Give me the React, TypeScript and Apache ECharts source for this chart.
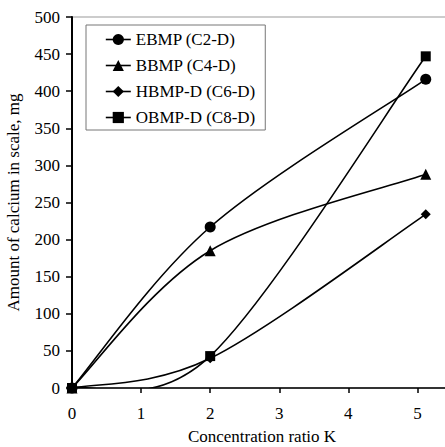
import React, { useEffect, useRef } from "react";
import * as echarts from "echarts";

const xValues = [0, 2, 5.12];
const seriesNames = ["EBMP (C2-D)", "BBMP (C4-D)", "HBMP-D (C6-D)", "OBMP-D (C8-D)"];
const ebmp = [0, 217, 416];
const bbmp = [0, 185, 288];
const hbmp = [0, 40, 234];
const obmp = [0, 43, 447];
const symbols = ["circle", "triangle", "diamond", "rect"];
const symbolSizes = [11, 11, 10, 10];

function splineRenderer(vals: number[]) {
  return (params: any, api: any) => {
    if (params.dataIndex !== 0) return null;
    const pts = xValues.map((x, j) => api.coord([x, vals[j]]));
    const n = pts.length;
    let d = `M${pts[0][0]},${pts[0][1]}`;
    for (let i = 0; i < n - 1; i++) {
      const p0 = pts[i - 1] || pts[i];
      const p1 = pts[i];
      const p2 = pts[i + 1];
      const p3 = pts[i + 2] || pts[i + 1];
      const c1 = [p1[0] + (p2[0] - p0[0]) / 6, p1[1] + (p2[1] - p0[1]) / 6];
      const c2 = [p2[0] - (p3[0] - p1[0]) / 6, p2[1] - (p3[1] - p1[1]) / 6];
      d += ` C${c1[0]},${c1[1]} ${c2[0]},${c2[1]} ${p2[0]},${p2[1]}`;
    }
    return {
      type: "path",
      shape: { pathData: d },
      style: { stroke: "#000", fill: "none", lineWidth: 1.6 },
    };
  };
}

export default function App() {
  const ref = useRef<HTMLDivElement>(null);
  useEffect(() => {
    if (!ref.current) return;
    const chart = echarts.init(ref.current, undefined, { renderer: "svg" });
    const font = "'Liberation Serif', 'Times New Roman', serif";
    const all = [ebmp, bbmp, hbmp, obmp];
    chart.setOption({
      animation: false,
      backgroundColor: "#fff",
      textStyle: { fontFamily: font, color: "#000" },
      grid: {
        left: 72,
        top: 17,
        bottom: 59,
        right: -7,
        outerBoundsMode: "none",
        containLabel: false,
        show: true,
        borderColor: "#999",
        borderWidth: 1,
      },
      legend: {
        orient: "vertical",
        left: 86,
        top: 25,
        padding: [6, 10, 4, 19],
        itemGap: 9,
        itemWidth: 25,
        itemHeight: 14,
        itemTextGap: 5,
        borderColor: "#777",
        borderWidth: 1,
        borderRadius: 0,
        backgroundColor: "#fff",
        lineStyle: { color: "#000", width: 1.6, opacity: 1 },
        textStyle: { fontFamily: font, fontSize: 17, color: "#000" },
        data: seriesNames,
      },
      xAxis: {
        type: "value",
        min: 0,
        max: 5.5,
        interval: 1,
        name: "Concentration ratio K",
        nameLocation: "middle",
        nameGap: 40,
        nameTextStyle: { fontFamily: font, fontSize: 17, color: "#000" },
        axisLine: { show: true, onZero: false, lineStyle: { color: "#000", width: 1.5 } },
        axisTick: { show: true, length: 5, lineStyle: { color: "#000", width: 1.5 } },
        axisLabel: { showMaxLabel: false, fontFamily: font, fontSize: 17, color: "#000", margin: 17 },
        splitLine: { show: false },
      },
      yAxis: {
        type: "value",
        min: 0,
        max: 500,
        interval: 50,
        name: "Amount of calcium in scale, mg",
        nameLocation: "middle",
        nameGap: 50,
        nameTextStyle: { fontFamily: font, fontSize: 17, color: "#000" },
        axisLine: { show: true, lineStyle: { color: "#000", width: 2 } },
        axisTick: { show: true, length: 6, lineStyle: { color: "#000", width: 1.5 } },
        axisLabel: { fontFamily: font, fontSize: 17, color: "#000", margin: 12 },
        splitLine: { show: false },
      },
      series: [
        ...seriesNames.map((name, i) => ({
          name: "curve-" + i,
          type: "custom",
          coordinateSystem: "cartesian2d",
          z: 2,
          clip: true,
          renderItem: splineRenderer(all[i]),
          data: [[xValues[0], all[i][0]]],
          silent: true,
        })),
        ...seriesNames.map((name, i) => ({
          name,
          type: "line",
          z: 3,
          smooth: false,
          symbol: symbols[i],
          symbolSize: symbolSizes[i],
          showAllSymbol: true,
          clip: false,
          itemStyle: { color: "#000" },
          lineStyle: { color: "#000", width: 1.6, opacity: 0 },
          data: xValues.map((x, j) => [x, all[i][j]]),
        })),
      ],
    });
    return () => chart.dispose();
  }, []);
  return <div ref={ref} style={{ width: 445, height: 447, position: "absolute", left: 0, top: 0 }} />;
}
